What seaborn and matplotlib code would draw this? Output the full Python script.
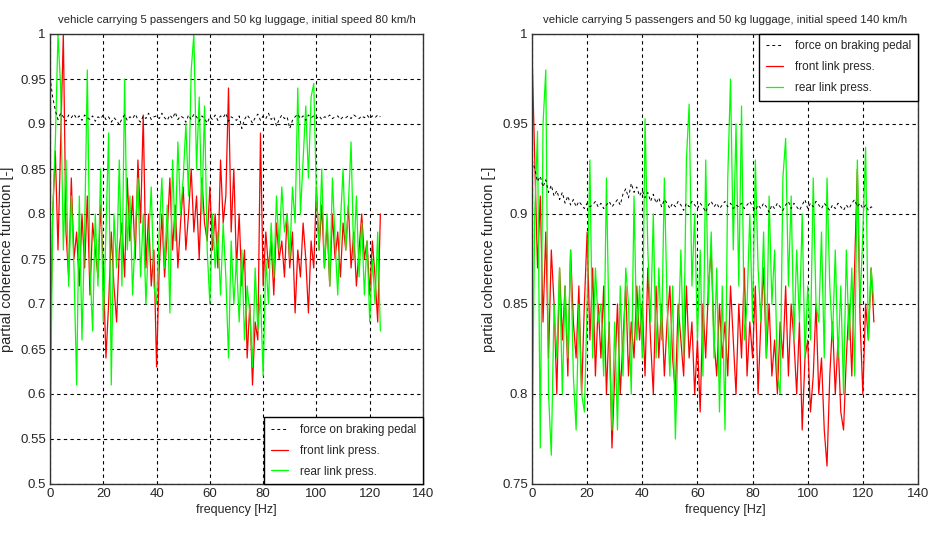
import numpy as np
import pandas as pd
import matplotlib
matplotlib.use("Agg")
import matplotlib.pyplot as plt
import seaborn as sns

# ---------------- data (1 Hz steps, 0..124 Hz) ----------------
freq = list(range(0, 125))

force_80 = [0.952, 0.93, 0.915, 0.905, 0.912, 0.908, 0.903, 0.910, 0.907, 0.911,
            0.906, 0.909, 0.904, 0.910, 0.907, 0.905, 0.909, 0.903, 0.908, 0.906,
            0.910, 0.905, 0.908, 0.902, 0.907, 0.904, 0.899, 0.906, 0.910, 0.904,
            0.908, 0.906, 0.911, 0.905, 0.902, 0.909, 0.906, 0.912, 0.905, 0.908,
            0.909, 0.906, 0.912, 0.907, 0.904, 0.910, 0.906, 0.913, 0.905, 0.909,
            0.907, 0.902, 0.910, 0.905, 0.911, 0.908, 0.903, 0.909, 0.906, 0.901,
            0.908, 0.905, 0.910, 0.904, 0.909, 0.907, 0.912, 0.903, 0.908, 0.906,
            0.904, 0.909, 0.895, 0.905, 0.910, 0.906, 0.901, 0.907, 0.911, 0.904,
            0.909, 0.906, 0.912, 0.905, 0.908, 0.898, 0.905, 0.910, 0.906, 0.908,
            0.895, 0.904, 0.908, 0.911, 0.906, 0.909, 0.904, 0.910, 0.907, 0.909,
            0.906, 0.909, 0.905, 0.908, 0.907, 0.910, 0.906, 0.908, 0.909, 0.905,
            0.908, 0.907, 0.909, 0.906, 0.910, 0.908, 0.906, 0.909, 0.907, 0.910,
            0.906, 0.909, 0.907, 0.910, 0.908]

front_80 = [0.62, 0.80, 0.87, 0.76, 0.88, 1.00, 0.78, 0.73, 0.84, 0.75,
            0.78, 0.72, 0.80, 0.74, 0.82, 0.71, 0.79, 0.76, 0.73, 0.81,
            0.74, 0.64, 0.70, 0.78, 0.72, 0.68, 0.76, 0.79, 0.73, 0.84,
            0.77, 0.82, 0.75, 0.86, 0.79, 0.91, 0.74, 0.80, 0.72, 0.76,
            0.63, 0.74, 0.80, 0.73, 0.78, 0.84, 0.76, 0.81, 0.74, 0.79,
            0.83, 0.76, 0.80, 0.85, 0.78, 0.82, 0.75, 0.84, 0.79, 0.77,
            0.83, 0.76, 0.80, 0.74, 0.86, 0.79, 0.82, 0.94, 0.78, 0.85,
            0.74, 0.80, 0.72, 0.76, 0.64, 0.70, 0.61, 0.68, 0.66, 0.89,
            0.72, 0.78, 0.74, 0.77, 0.71, 0.79, 0.75, 0.77, 0.73, 0.80,
            0.74, 0.78, 0.69, 0.76, 0.73, 0.79, 0.75, 0.69, 0.77, 0.74,
            0.83, 0.76, 0.81, 0.74, 0.79, 0.72, 0.80, 0.75, 0.78, 0.73,
            0.79, 0.76, 0.81, 0.74, 0.78, 0.72, 0.76, 0.80, 0.75, 0.77,
            0.71, 0.77, 0.73, 0.68, 0.80]

rear_80 = [0.52, 0.80, 0.88, 1.00, 0.94, 0.76, 0.86, 0.72, 0.82, 0.74,
           0.61, 0.82, 0.66, 0.78, 0.96, 0.74, 0.67, 0.80, 0.72, 0.85,
           0.68, 0.78, 0.89, 0.61, 0.80, 0.74, 0.86, 0.72, 0.95, 0.76,
           0.82, 0.71, 0.78, 0.84, 0.73, 0.80, 0.70, 0.77, 0.83, 0.72,
           0.70, 0.78, 0.84, 0.74, 0.81, 0.69, 0.86, 0.77, 0.88, 0.80,
           0.84, 0.90, 0.82, 0.96, 1.00, 0.85, 0.93, 0.80, 0.92, 0.76,
           0.70, 0.80, 0.74, 0.78, 0.71, 0.79, 0.73, 0.64, 0.77, 0.70,
           0.75, 0.68, 0.76, 0.66, 0.72, 0.69, 0.63, 0.74, 0.67, 0.71,
           0.62, 0.75, 0.70, 0.79, 0.73, 0.82, 0.76, 0.83, 0.78, 0.80,
           0.75, 0.83, 0.79, 0.94, 0.80, 0.86, 0.92, 0.84, 0.93, 0.945,
           0.82, 0.76, 0.85, 0.74, 0.80, 0.72, 0.84, 0.77, 0.71, 0.79,
           0.85, 0.76, 0.81, 0.88, 0.75, 0.82, 0.73, 0.79, 0.71, 0.77,
           0.68, 0.75, 0.70, 0.78, 0.67]

force_140 = [0.93, 0.925, 0.918, 0.921, 0.915, 0.919, 0.912, 0.916, 0.910, 0.913,
             0.908, 0.912, 0.906, 0.910, 0.905, 0.908, 0.904, 0.907, 0.905, 0.903,
             0.906, 0.904, 0.905, 0.907, 0.904, 0.906, 0.903, 0.905, 0.907, 0.904,
             0.906, 0.908, 0.905, 0.911, 0.914, 0.909, 0.917, 0.912, 0.915, 0.910,
             0.913, 0.909, 0.912, 0.907, 0.911, 0.906, 0.909, 0.904, 0.908, 0.906,
             0.903, 0.906, 0.904, 0.907, 0.905, 0.902, 0.906, 0.904, 0.907, 0.905,
             0.903, 0.906, 0.904, 0.901, 0.905, 0.907, 0.904, 0.906, 0.903, 0.905,
             0.907, 0.904, 0.906, 0.903, 0.905, 0.904, 0.906, 0.903, 0.905, 0.907,
             0.904, 0.902, 0.905, 0.903, 0.906, 0.904, 0.901, 0.905, 0.903, 0.906,
             0.904, 0.902, 0.905, 0.907, 0.903, 0.906, 0.904, 0.902, 0.905, 0.908,
             0.903, 0.906, 0.904, 0.907, 0.905, 0.903, 0.906, 0.904, 0.902, 0.905,
             0.903, 0.906, 0.904, 0.902, 0.905, 0.903, 0.906, 0.908, 0.904, 0.906,
             0.903, 0.905, 0.902, 0.904, 0.903]

front_140 = [0.99, 0.93, 0.87, 0.91, 0.84, 0.89, 0.82, 0.88, 0.85, 0.80,
             0.87, 0.83, 0.86, 0.81, 0.88, 0.84, 0.82, 0.86, 0.80, 0.85,
             0.89, 0.83, 0.87, 0.81, 0.85, 0.82, 0.86, 0.80, 0.84, 0.77,
             0.81, 0.85, 0.80, 0.83, 0.86, 0.81, 0.84, 0.82, 0.86, 0.83,
             0.85, 0.81, 0.87, 0.83, 0.80, 0.86, 0.82, 0.85, 0.81, 0.84,
             0.86, 0.82, 0.80, 0.85, 0.83, 0.81, 0.86, 0.82, 0.84, 0.80,
             0.83, 0.79, 0.85, 0.82, 0.86, 0.88, 0.83, 0.81, 0.85, 0.82,
             0.84, 0.81, 0.86, 0.83, 0.80, 0.85, 0.82, 0.87, 0.81, 0.84,
             0.82, 0.86, 0.80, 0.84, 0.87, 0.82, 0.85, 0.81, 0.83, 0.80,
             0.84, 0.82, 0.86, 0.81, 0.85, 0.83, 0.80, 0.84, 0.78, 0.82,
             0.83, 0.79, 0.81, 0.85, 0.80, 0.82, 0.78, 0.76, 0.81, 0.84,
             0.80, 0.83, 0.79, 0.78, 0.82, 0.85, 0.81, 0.87, 0.925, 0.84,
             0.80, 0.85, 0.83, 0.87, 0.84]

rear_140 = [0.77, 0.90, 0.946, 0.77, 0.95, 0.98, 0.80, 0.766, 0.85, 0.82,
            0.87, 0.80, 0.86, 0.82, 0.88, 0.81, 0.78, 0.85, 0.80, 0.79,
            0.85, 0.93, 0.82, 0.87, 0.84, 0.85, 0.81, 0.92, 0.83, 0.78,
            0.84, 0.78, 0.86, 0.81, 0.87, 0.85, 0.80, 0.91, 0.83, 0.86,
            0.82, 0.953, 0.88, 0.84, 0.90, 0.82, 0.87, 0.83, 0.92, 0.85,
            0.81, 0.86, 0.775, 0.83, 0.88, 0.82, 0.93, 0.961, 0.86, 0.90,
            0.83, 0.88, 0.81, 0.93, 0.85, 0.89, 0.82, 0.87, 0.79, 0.86,
            0.78, 0.92, 0.975, 0.88, 0.95, 0.86, 0.96, 0.83, 0.85, 0.90,
            0.84, 0.93, 0.87, 0.84, 0.89, 0.82, 0.91, 0.85, 0.88, 0.81,
            0.80, 0.92, 0.942, 0.86, 0.91, 0.83, 0.88, 0.84, 0.90, 0.82,
            0.86, 0.83, 0.92, 0.85, 0.84, 0.89, 0.82, 0.92, 0.86, 0.83,
            0.88, 0.82, 0.86, 0.80, 0.88, 0.83, 0.87, 0.81, 0.93, 0.85,
            0.89, 0.937, 0.83, 0.87, 0.85]

titles = ["vehicle carrying 5 passengers and 50 kg luggage, initial speed 80 km/h",
          "vehicle carrying 5 passengers and 50 kg luggage, initial speed 140 km/h"]
labels = ["force on braking pedal", "front link press.", "rear link press."]
xticks = [0, 20, 40, 60, 80, 100, 120, 140]
yticks_left = [0.5, 0.55, 0.6, 0.65, 0.7, 0.75, 0.8, 0.85, 0.9, 0.95, 1.0]
yticks_right = [0.75, 0.8, 0.85, 0.9, 0.95, 1.0]

# ---------------- style ----------------
sns.set_style("white")
plt.rcParams["font.family"] = ["Liberation Sans", "DejaVu Sans"]

fig = plt.figure(figsize=(9.3, 5.36), dpi=100)
ax1 = fig.add_axes([50 / 930, 1 - 484 / 536, 373 / 930, 450 / 536])
ax2 = fig.add_axes([532 / 930, 1 - 484 / 536, 386 / 930, 450 / 536])


def draw(ax, f, fr, rr, title, yticks, ylim, legend_loc, bbox, ylab_x):
    df = pd.DataFrame({"freq": freq, "force": f, "front": fr, "rear": rr})
    sns.lineplot(data=df, x="freq", y="front", ax=ax, color="#ff0000",
                 linewidth=0.9, label=labels[1], estimator=None)
    sns.lineplot(data=df, x="freq", y="rear", ax=ax, color="#00ff00",
                 linewidth=0.9, label=labels[2], estimator=None)
    sns.lineplot(data=df, x="freq", y="force", ax=ax, color="black",
                 linewidth=0.7, linestyle=(0, (3, 3)), label=labels[0],
                 estimator=None)
    ax.set_xlim(0, 140)
    ax.set_ylim(*ylim)
    ax.set_xticks(xticks)
    ax.set_xticklabels([str(t) for t in xticks])
    ax.set_yticks(yticks)
    ax.set_yticklabels([("%g" % t) for t in yticks])
    ax.grid(True, color="black", linestyle=(0, (3, 3)), linewidth=0.8)
    for s in ax.spines.values():
        s.set_color("#333333")
        s.set_linewidth(1.0)
    ax.tick_params(axis="both", labelsize=9.5, length=0, pad=3)
    ax.set_title(title, fontsize=8.2, pad=8)
    ax.set_xlabel("frequency [Hz]", fontsize=9, labelpad=3)
    ax.set_ylabel("partial coherence function [-]", fontsize=10.5)
    ax.yaxis.set_label_coords(ylab_x, 0.5)
    h, l = ax.get_legend_handles_labels()
    order = [2, 0, 1]
    leg = ax.legend([h[i] for i in order], [l[i] for i in order],
                    loc=legend_loc, bbox_to_anchor=bbox, fontsize=8.5,
                    frameon=True, fancybox=False, framealpha=1,
                    edgecolor="black", borderpad=0.55, handlelength=1.5,
                    handletextpad=1.0, labelspacing=0.75, borderaxespad=0)
    leg.get_frame().set_linewidth(1.0)


draw(ax1, force_80, front_80, rear_80, titles[0], yticks_left, (0.5, 1.0),
     "lower right", (1.0, 0.0), (14 - 50) / 373)
draw(ax2, force_140, front_140, rear_140, titles[1], yticks_right, (0.75, 1.0),
     "upper right", (1.0, 1.0), (496 - 532) / 386)

fig.savefig("out.png", dpi=100, facecolor="white")
